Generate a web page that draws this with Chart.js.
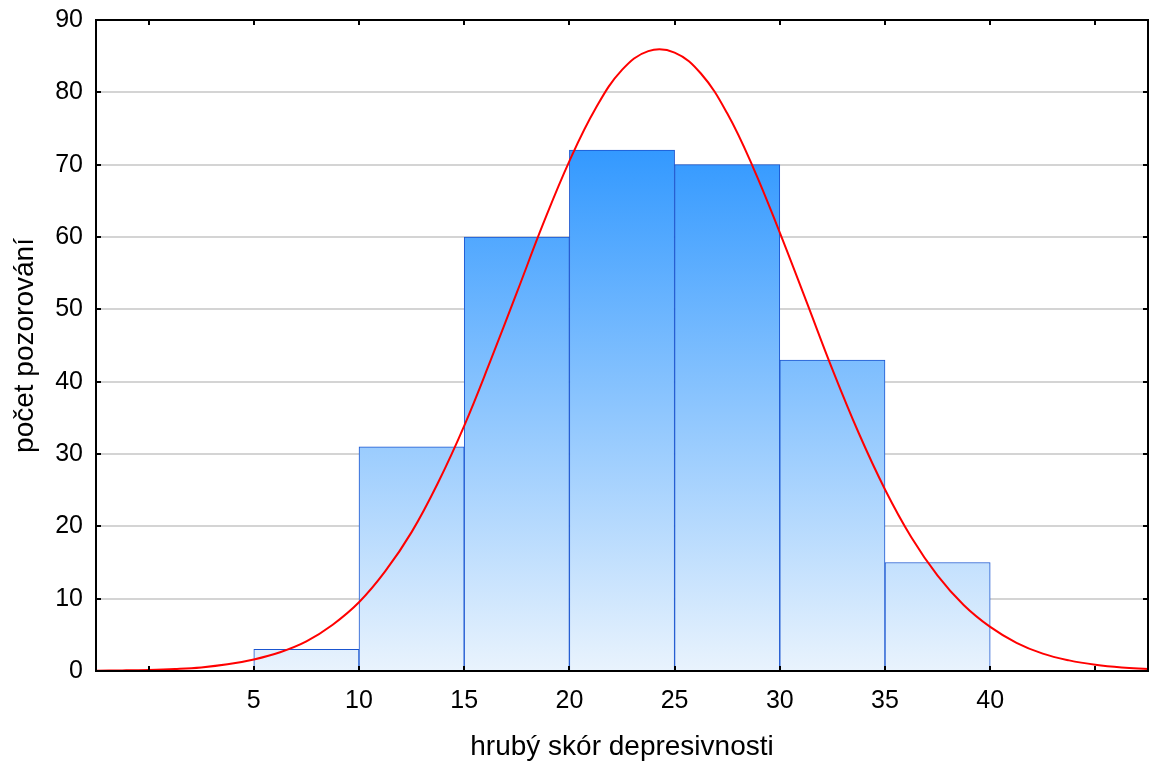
<!DOCTYPE html>
<html lang="cs">
<head>
    <meta charset="UTF-8">
    <title>hrubý skór depresivnosti</title>
    <script src="https://cdn.jsdelivr.net/npm/chart.js"></script>
    <style>
        body { margin: 0; background: #ffffff; }
        canvas { display: block; }
    </style>
</head>
<body>
    <canvas id="histChart" width="1156" height="767"></canvas>
    <script>
        // histogram bins (midpoints) and counts
        const binCenters = [7.5, 12.5, 17.5, 22.5, 27.5, 32.5, 37.5];
        const counts = [3, 31, 60, 72, 70, 43, 15];

        // expected normal curve
        const curveX = [-2.5, -1.25, 0, 1.25, 2.5, 3.75, 5, 6.25, 7.5, 8.75, 10, 11.25, 12.5, 13.75, 15, 16.25, 17.5,
            18.75, 20, 21.25, 22.5, 23.75, 25, 26.25, 27.5, 28.75, 30, 31.25, 32.5, 33.75, 35, 36.25, 37.5, 38.75,
            40, 41.25, 42.5, 43.75, 45, 46.25, 47.5];
        const curveY = [0.04, 0.08, 0.15, 0.28, 0.5, 0.92, 1.6, 2.6, 4.1, 6.4, 9.5, 13.8, 19.2, 26.0, 33.9, 42.9, 52.3,
            61.8, 70.5, 77.8, 83.1, 85.7, 85.5, 82.6, 77.1, 69.5, 60.6, 51.2, 41.7, 32.9, 25.1, 18.5, 13.2, 9.1,
            6.1, 3.9, 2.4, 1.47, 0.86, 0.48, 0.26];

        const xTicks = [0, 5, 10, 15, 20, 25, 30, 35, 40, 45];
        const xLabels = ['', '5', '10', '15', '20', '25', '30', '35', '40', ''];
        const yTicks = [0, 10, 20, 30, 40, 50, 60, 70, 80, 90];

        const FONT = "'Liberation Sans', Arial, sans-serif";

        // frame and inward tick marks
        const framePlugin = {
            id: 'frame',
            afterDraw(chart) {
                const { ctx, chartArea: a, scales } = chart;
                ctx.save();
                ctx.strokeStyle = '#000';
                ctx.lineWidth = 2;
                ctx.strokeRect(a.left, a.top, a.right - a.left, a.bottom - a.top);
                ctx.beginPath();
                xTicks.forEach(v => {
                    const px = Math.round(scales.x.getPixelForValue(v));
                    ctx.moveTo(px, a.bottom); ctx.lineTo(px, a.bottom - 5);
                    ctx.moveTo(px, a.top); ctx.lineTo(px, a.top + 5);
                });
                yTicks.forEach(v => {
                    const py = Math.round(scales.y.getPixelForValue(v));
                    ctx.moveTo(a.left, py); ctx.lineTo(a.left + 5, py);
                    ctx.moveTo(a.right, py); ctx.lineTo(a.right - 5, py);
                });
                ctx.stroke();
                ctx.restore();
            }
        };

        function barGradient(context) {
            const chart = context.chart;
            if (!chart.chartArea) return '#7ab8fb';
            const y = chart.scales.y;
            const g = chart.ctx.createLinearGradient(0, y.getPixelForValue(Math.max(...counts)), 0, y.getPixelForValue(0));
            g.addColorStop(0, '#3399ff');
            g.addColorStop(1, '#e9f3fd');
            return g;
        }

        new Chart(document.getElementById('histChart'), {
            data: {
                datasets: [{
                    type: 'line',
                    data: curveX.map((x, i) => ({ x: x, y: curveY[i] })),
                    borderColor: '#ff0000',
                    borderWidth: 2,
                    pointRadius: 0,
                    tension: 0.4,
                    fill: false,
                    order: 0
                }, {
                    type: 'bar',
                    data: binCenters.map((x, i) => ({ x: x, y: counts[i] })),
                    backgroundColor: barGradient,
                    borderColor: '#1a55d0',
                    borderWidth: 1,
                    borderSkipped: 'bottom',
                    barPercentage: 1,
                    categoryPercentage: 1,
                    order: 1
                }]
            },
            options: {
                responsive: false,
                animation: false,
                layout: { padding: { top: 20, right: 8, left: 0, bottom: 0 } },
                plugins: { legend: { display: false }, tooltip: { enabled: false } },
                scales: {
                    x: {
                        type: 'linear',
                        offset: false,
                        min: -2.5,
                        max: 47.5,
                        afterBuildTicks: s => { s.ticks = xTicks.map(v => ({ value: v })); },
                        afterFit: s => { s.height = 96; s.paddingLeft = 0; s.paddingRight = 0; },
                        grid: { display: false, drawTicks: false, offset: false },
                        border: { display: false },
                        ticks: {
                            autoSkip: false,
                            maxRotation: 0,
                            padding: 15,
                            color: '#000',
                            font: { family: FONT, size: 25 },
                            callback: (v, i) => xLabels[i]
                        },
                        title: {
                            display: true,
                            text: 'hrubý skór depresivnosti',
                            color: '#000',
                            font: { family: FONT, size: 28 },
                            padding: { top: 0, bottom: 3 }
                        }
                    },
                    y: {
                        min: 0,
                        max: 90,
                        afterBuildTicks: s => { s.ticks = yTicks.map(v => ({ value: v })); },
                        afterFit: s => { s.width = 96; s.paddingTop = 0; s.paddingBottom = 0; },
                        grid: { color: '#d4d4d4', lineWidth: 2, drawTicks: false },
                        border: { display: false },
                        ticks: {
                            padding: 13,
                            color: '#000',
                            font: { family: FONT, size: 25 }
                        },
                        title: {
                            display: true,
                            text: 'počet pozorování',
                            color: '#000',
                            font: { family: FONT, size: 28 },
                            padding: { top: 8, bottom: 0 }
                        }
                    }
                }
            },
            plugins: [framePlugin]
        });
    </script>
</body>
</html>
